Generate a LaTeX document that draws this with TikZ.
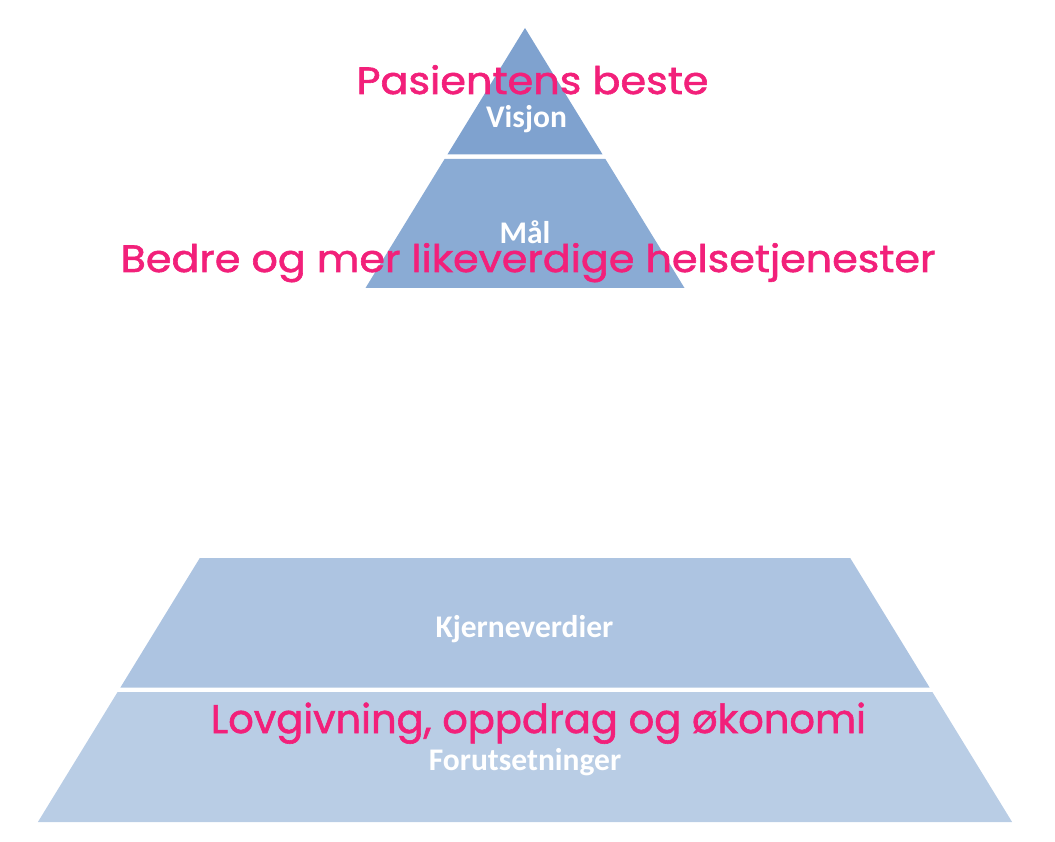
\documentclass[tikz,border=0pt]{standalone}
\usepackage{fontspec}
\usepackage{graphicx}
\setmainfont{Carlito}
\newfontfamily\handfont[FakeBold=1.5]{Poppins}
\definecolor{tierA}{HTML}{7FA2CF}
\definecolor{tierB}{HTML}{8AABD4}
\definecolor{tierC}{HTML}{ADC4E1}
\definecolor{tierD}{HTML}{B9CDE5}
\definecolor{pinktxt}{HTML}{F2207A}
\tikzset{
  label/.style={text=white, font=\bfseries\fontsize{31.5}{32}\selectfont, anchor=base, inner sep=0pt},
  hand/.style={text=pinktxt, font=\handfont\fontsize{38}{40}\selectfont, anchor=base, inner sep=0pt}
}
\begin{document}
\begin{tikzpicture}[x=1pt,y=-1pt]
\useasboundingbox (0,0) rectangle (1055,842);
% tiers
\fill[tierA] (525,28) -- (602.6,154.5) -- (447.4,154.5) -- cycle;
\fill[tierB] (444.6,159) -- (605.4,159) -- (684.5,288) -- (365.5,288) -- cycle;
\fill[tierC] (199.8,558) -- (850.2,558) -- (929.6,687.5) -- (120.4,687.5) -- cycle;
\fill[tierD] (117.6,692) -- (932.4,692) -- (1012.1,822) -- (37.9,822) -- cycle;
% white labels
\node[label] (visjon) at (526.5,127.7) {Visjon};
\node[label] (maal) at (525,244) {Mål};
\node[label] (kjerne) at (524.5,637.5) {Kjerneverdier};
\node[label] (forut) at (525,770) {Forutsetninger};
% handwritten labels
\node[hand] (pasient) at (532.5,94) {\scalebox{1.09}[1]{Pasientens beste}};
\node[hand] (bedre) at (528,272) {\scalebox{1.087}[1]{Bedre og mer likeverdige helsetjenester}};
\node[hand, font=\handfont\fontsize{40}{42}\selectfont] (lov) at (538.5,733) {Lovgivning, oppdrag og økonomi};
\end{tikzpicture}
\end{document}
